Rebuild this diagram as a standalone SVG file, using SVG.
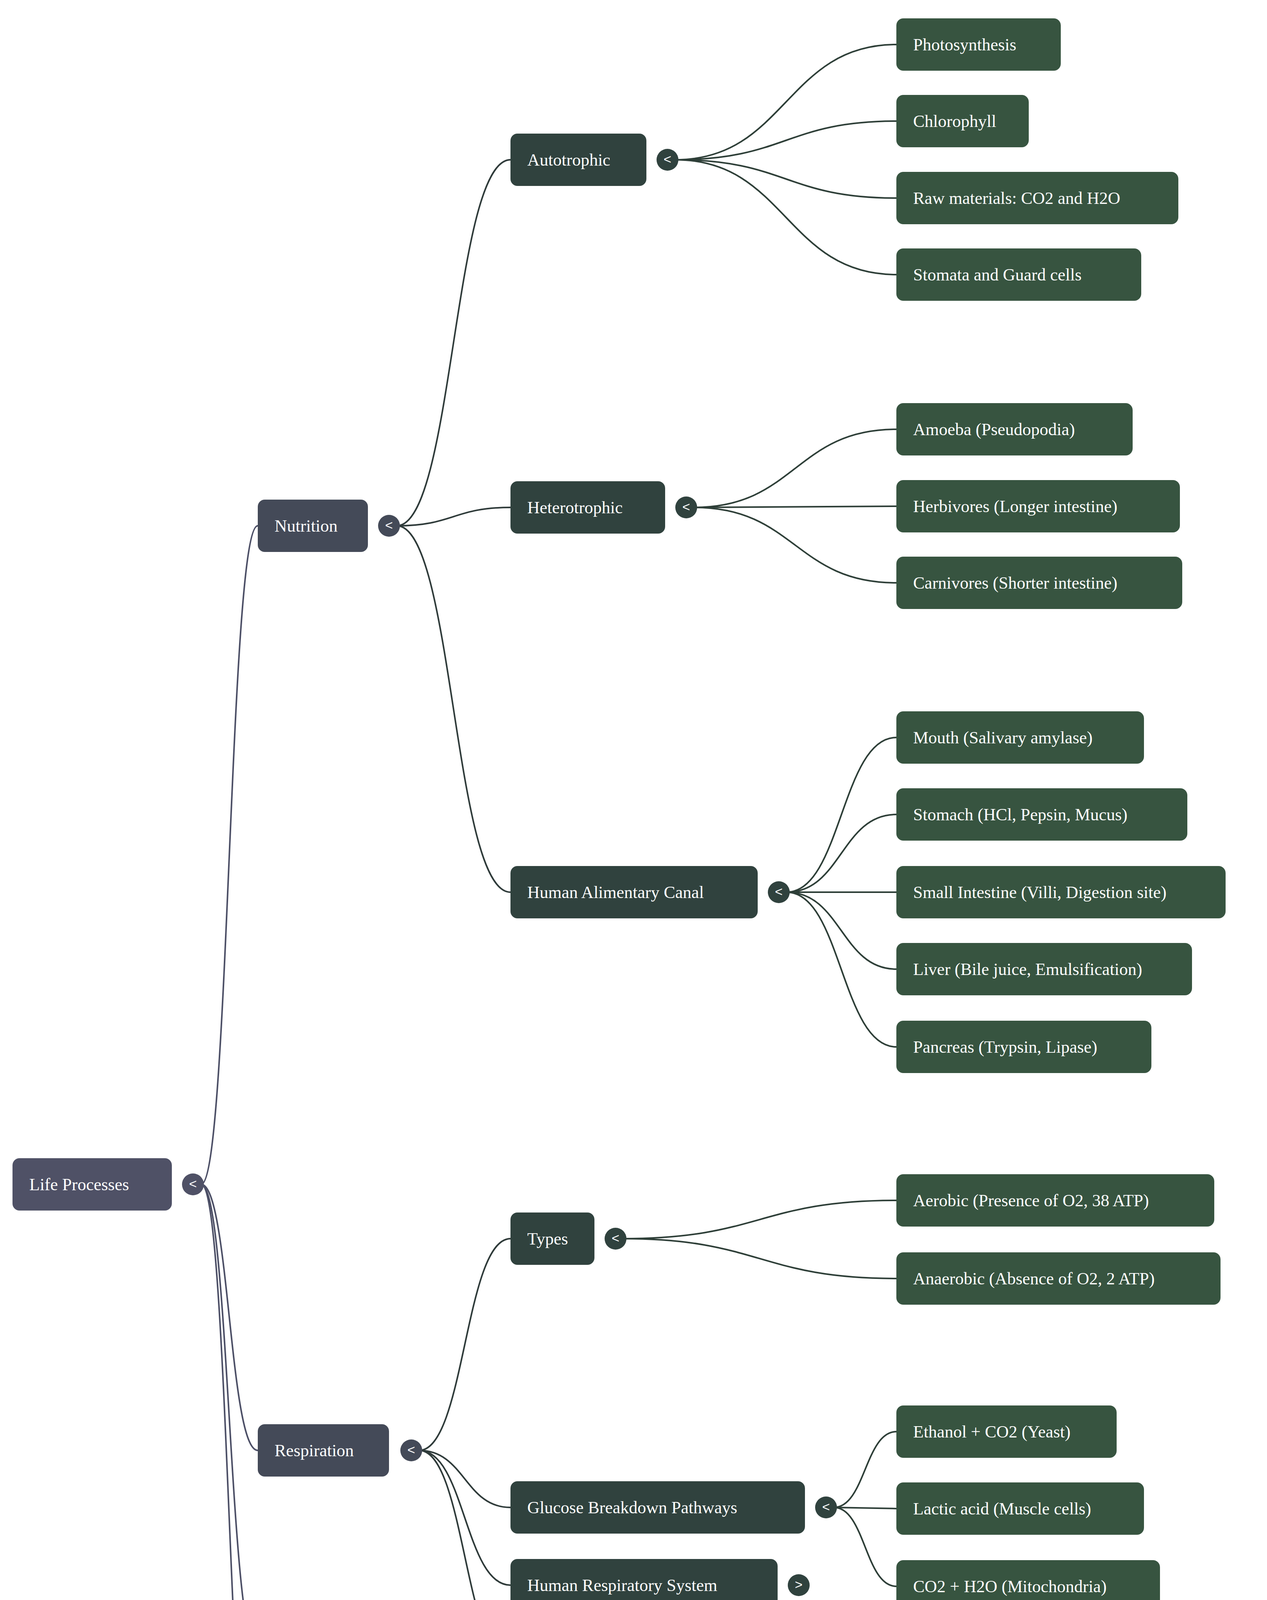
<svg xmlns="http://www.w3.org/2000/svg" width="3244" height="4937" viewBox="0 0 3244 4937">
<style>
.t{font-family:"Liberation Serif","Times New Roman",serif;font-size:44px;fill:#fff;dominant-baseline:central}
.g{font-family:"Liberation Sans",Arial,sans-serif;font-size:34px;fill:#fff;text-anchor:middle;dominant-baseline:central}
.r{fill:#4f5166}.l1{fill:#444a58}.l2{fill:#30423e}.l3{fill:#375440}
.e0{fill:none;stroke:#4c4f66;stroke-width:4}
.e1{fill:none;stroke:#2f3b3a;stroke-width:4}
.e2{fill:none;stroke:#2e3f38;stroke-width:4}
</style>
<rect width="3244" height="4937" fill="#fff"/>
<g id="connectors">
<path class="e0" d="M515,3032 C587,3032 587,1346 660,1346"/>
<path class="e0" d="M515,3032 C587,3032 587,3713 660,3713"/>
<path class="e0" d="M515,3032 C587,3032 587,4232 660,4232"/>
<path class="e0" d="M515,3032 C587,3032 587,4752 660,4752"/>
<path class="e1" d="M1016,1346 C1161,1346 1161,409 1307,409"/>
<path class="e1" d="M1016,1346 C1161,1346 1161,1299 1307,1299"/>
<path class="e1" d="M1016,1346 C1161,1346 1161,2284 1307,2284"/>
<path class="e1" d="M1073,3713 C1190,3713 1190,3171 1307,3171"/>
<path class="e1" d="M1073,3713 C1190,3713 1190,3859 1307,3859"/>
<path class="e1" d="M1073,3713 C1190,3713 1190,4058 1307,4058"/>
<path class="e1" d="M1073,3713 C1190,3713 1190,4255 1307,4255"/>
<path class="e1" d="M1029,4752 C1168,4752 1168,4651 1307,4651"/>
<path class="e1" d="M1029,4752 C1168,4752 1168,4847 1307,4847"/>
<path class="e2" d="M1729,409 C2012,409 2012,114 2295,114"/>
<path class="e2" d="M1729,409 C2012,409 2012,310 2295,310"/>
<path class="e2" d="M1729,409 C2012,409 2012,507 2295,507"/>
<path class="e2" d="M1729,409 C2012,409 2012,703 2295,703"/>
<path class="e2" d="M1777,1299 C2036,1299 2036,1099 2295,1099"/>
<path class="e2" d="M1777,1299 C2036,1299 2036,1296 2295,1296"/>
<path class="e2" d="M1777,1299 C2036,1299 2036,1492 2295,1492"/>
<path class="e2" d="M2014,2284 C2154,2284 2154,1888 2295,1888"/>
<path class="e2" d="M2014,2284 C2154,2284 2154,2085 2295,2085"/>
<path class="e2" d="M2014,2284 L2295,2284"/>
<path class="e2" d="M2014,2284 C2154,2284 2154,2481 2295,2481"/>
<path class="e2" d="M2014,2284 C2154,2284 2154,2680 2295,2680"/>
<path class="e2" d="M1596,3171 C1945,3171 1945,3073 2295,3073"/>
<path class="e2" d="M1596,3171 C1945,3171 1945,3273 2295,3273"/>
<path class="e2" d="M2135,3859 C2215,3859 2215,3665 2295,3665"/>
<path class="e2" d="M2135,3859 L2295,3862"/>
<path class="e2" d="M2135,3859 C2215,3859 2215,4061 2295,4061"/>
</g>
<g id="root"><rect class="r" x="32" y="2965" width="408" height="134" rx="18"/><text class="t" x="75" y="3032">Life Processes</text><circle class="r" cx="494" cy="3032" r="28"/><text class="g" x="494" y="3030">&lt;</text></g>
<g id="nutrition"><rect class="l1" x="660" y="1279" width="282" height="134" rx="18"/><text class="t" x="703" y="1346">Nutrition</text><circle class="l1" cx="996" cy="1346" r="28"/><text class="g" x="996" y="1344">&lt;</text></g>
<g id="respiration"><rect class="l1" x="660" y="3646" width="336" height="134" rx="18"/><text class="t" x="703" y="3713">Respiration</text><circle class="l1" cx="1053" cy="3713" r="28"/><text class="g" x="1053" y="3711">&lt;</text></g>
<g id="transportation"><rect class="l1" x="660" y="4165" width="412" height="134" rx="18"/><text class="t" x="703" y="4232">Transportation</text><circle class="l1" cx="1126" cy="4232" r="28"/><text class="g" x="1126" y="4230">&gt;</text></g>
<g id="excretion"><rect class="l1" x="660" y="4685" width="292" height="134" rx="18"/><text class="t" x="703" y="4752">Excretion</text><circle class="l1" cx="1009" cy="4752" r="28"/><text class="g" x="1009" y="4750">&lt;</text></g>
<g id="autotrophic"><rect class="l2" x="1307" y="342" width="348" height="134" rx="18"/><text class="t" x="1350" y="409">Autotrophic</text><circle class="l2" cx="1709" cy="409" r="28"/><text class="g" x="1709" y="407">&lt;</text></g>
<g id="heterotrophic"><rect class="l2" x="1307" y="1232" width="396" height="134" rx="18"/><text class="t" x="1350" y="1299">Heterotrophic</text><circle class="l2" cx="1757" cy="1299" r="28"/><text class="g" x="1757" y="1297">&lt;</text></g>
<g id="alimentary"><rect class="l2" x="1307" y="2217" width="633" height="134" rx="18"/><text class="t" x="1350" y="2284">Human Alimentary Canal</text><circle class="l2" cx="1994" cy="2284" r="28"/><text class="g" x="1994" y="2282">&lt;</text></g>
<g id="types"><rect class="l2" x="1307" y="3104" width="215" height="134" rx="18"/><text class="t" x="1350" y="3171">Types</text><circle class="l2" cx="1576" cy="3171" r="28"/><text class="g" x="1576" y="3169">&lt;</text></g>
<g id="glucose"><rect class="l2" x="1307" y="3792" width="754" height="134" rx="18"/><text class="t" x="1350" y="3859">Glucose Breakdown Pathways</text><circle class="l2" cx="2115" cy="3859" r="28"/><text class="g" x="2115" y="3857">&lt;</text></g>
<g id="hrs"><rect class="l2" x="1307" y="3991" width="684" height="134" rx="18"/><text class="t" x="1350" y="4058">Human Respiratory System</text><circle class="l2" cx="2045" cy="4058" r="28"/><text class="g" x="2045" y="4056">&gt;</text></g>
<g id="plant"><rect class="l2" x="1307" y="4188" width="456" height="134" rx="18"/><text class="t" x="1350" y="4255">Plant Respiration</text><circle class="l2" cx="1817" cy="4255" r="28"/><text class="g" x="1817" y="4253">&gt;</text></g>
<g id="hes"><rect class="l2" x="1307" y="4584" width="640" height="134" rx="18"/><text class="t" x="1350" y="4651">Human Excretory System</text><circle class="l2" cx="2000" cy="4651" r="28"/><text class="g" x="2000" y="4649">&gt;</text></g>
<g id="nephron"><rect class="l2" x="1307" y="4780" width="500" height="134" rx="18"/><text class="t" x="1350" y="4847">Nephron Structure</text><circle class="l2" cx="1861" cy="4847" r="28"/><text class="g" x="1861" y="4845">&gt;</text></g>
<g id="n1"><rect class="l3" x="2295" y="47" width="421" height="134" rx="18"/><text class="t" x="2338" y="114">Photosynthesis</text></g>
<g id="n2"><rect class="l3" x="2295" y="243" width="339" height="134" rx="18"/><text class="t" x="2338" y="310">Chlorophyll</text></g>
<g id="n3"><rect class="l3" x="2295" y="440" width="722" height="134" rx="18"/><text class="t" x="2338" y="507">Raw materials: CO2 and H2O</text></g>
<g id="n4"><rect class="l3" x="2295" y="636" width="627" height="134" rx="18"/><text class="t" x="2338" y="703">Stomata and Guard cells</text></g>
<g id="n5"><rect class="l3" x="2295" y="1032" width="605" height="134" rx="18"/><text class="t" x="2338" y="1099">Amoeba (Pseudopodia)</text></g>
<g id="n6"><rect class="l3" x="2295" y="1229" width="726" height="134" rx="18"/><text class="t" x="2338" y="1296">Herbivores (Longer intestine)</text></g>
<g id="n7"><rect class="l3" x="2295" y="1425" width="732" height="134" rx="18"/><text class="t" x="2338" y="1492">Carnivores (Shorter intestine)</text></g>
<g id="n8"><rect class="l3" x="2295" y="1821" width="634" height="134" rx="18"/><text class="t" x="2338" y="1888">Mouth (Salivary amylase)</text></g>
<g id="n9"><rect class="l3" x="2295" y="2018" width="745" height="134" rx="18"/><text class="t" x="2338" y="2085">Stomach (HCl, Pepsin, Mucus)</text></g>
<g id="n10"><rect class="l3" x="2295" y="2217" width="843" height="134" rx="18"/><text class="t" x="2338" y="2284">Small Intestine (Villi, Digestion site)</text></g>
<g id="n11"><rect class="l3" x="2295" y="2414" width="757" height="134" rx="18"/><text class="t" x="2338" y="2481">Liver (Bile juice, Emulsification)</text></g>
<g id="n12"><rect class="l3" x="2295" y="2613" width="653" height="134" rx="18"/><text class="t" x="2338" y="2680">Pancreas (Trypsin, Lipase)</text></g>
<g id="n13"><rect class="l3" x="2295" y="3006" width="814" height="134" rx="18"/><text class="t" x="2338" y="3073">Aerobic (Presence of O2, 38 ATP)</text></g>
<g id="n14"><rect class="l3" x="2295" y="3206" width="830" height="134" rx="18"/><text class="t" x="2338" y="3273">Anaerobic (Absence of O2, 2 ATP)</text></g>
<g id="n15"><rect class="l3" x="2295" y="3598" width="564" height="134" rx="18"/><text class="t" x="2338" y="3665">Ethanol + CO2 (Yeast)</text></g>
<g id="n16"><rect class="l3" x="2295" y="3795" width="634" height="134" rx="18"/><text class="t" x="2338" y="3862">Lactic acid (Muscle cells)</text></g>
<g id="n17"><rect class="l3" x="2295" y="3994" width="675" height="134" rx="18"/><text class="t" x="2338" y="4061">CO2 + H2O (Mitochondria)</text></g>
</svg>
